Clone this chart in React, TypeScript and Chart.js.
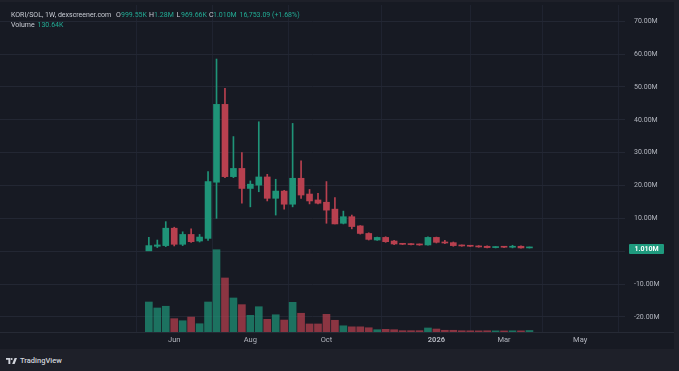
import React, { useEffect, useRef } from 'react';
import { Chart, registerables } from 'chart.js';

Chart.register(...registerables);

// Weekly candles (values in millions)
const opens = [0.1, 1.5, 1.7, 7.0, 2.1, 5.1, 3.1, 3.9, 21.0, 44.7, 22.7, 25.2, 19.1, 20.1, 22.6, 16.1, 18.3, 14.3, 22.2, 17.4, 15.6, 14.9, 12.8, 8.5, 10.5, 7.7, 5.4, 3.4, 4.2, 3.1, 2.3, 2.2, 2.1, 1.9, 4.2, 2.7, 2.6, 1.8, 1.7, 1.6, 1.5, 1.1, 1.3, 1.2, 1.5, 0.99955];
const highs = [4.2, 3.4, 9.0, 7.3, 5.9, 6.8, 5.1, 24.2, 58.5, 49.6, 34.9, 30.0, 21.4, 39.4, 23.4, 21.9, 18.5, 38.9, 27.5, 18.8, 17.6, 21.2, 16.3, 12.2, 11.0, 7.8, 5.6, 4.3, 4.4, 3.3, 2.4, 2.3, 2.2, 4.4, 4.3, 3.3, 2.8, 1.9, 1.8, 1.7, 1.6, 1.4, 1.4, 1.8, 1.6, 1.28];
const lows = [0.0, 1.1, 1.4, 1.6, 1.7, 2.7, 2.8, 3.3, 10.0, 22.4, 22.4, 14.6, 13.5, 18.1, 15.3, 11.0, 12.8, 13.5, 16.1, 14.4, 14.4, 8.5, 8.3, 8.3, 6.8, 5.2, 3.4, 3.3, 2.7, 2.0, 2.0, 1.9, 1.8, 1.8, 2.5, 2.3, 1.5, 1.5, 1.4, 1.2, 1.0, 1.0, 1.1, 1.0, 0.9, 0.96966];
const closes = [1.7, 1.9, 7.0, 2.1, 5.1, 2.9, 4.3, 21.2, 44.7, 22.7, 25.2, 19.1, 20.4, 22.6, 16.1, 18.3, 14.3, 22.2, 17.1, 15.3, 14.6, 12.5, 8.3, 10.5, 7.5, 5.4, 3.6, 4.2, 2.9, 2.2, 2.1, 2.0, 1.9, 4.2, 2.7, 2.5, 1.7, 1.6, 1.5, 1.3, 1.1, 1.3, 1.2, 1.3, 0.99, 1.010];
// Volume in thousands
const volumes = [2610, 2090, 2240, 1160, 980, 1300, 720, 2610, 7160, 4700, 2960, 2380, 1450, 2200, 1100, 1500, 1040, 2580, 1630, 700, 700, 1540, 1020, 540, 450, 450, 370, 200, 235, 200, 115, 115, 115, 350, 260, 150, 150, 110, 105, 100, 110, 100, 95, 105, 100, 130.64];

const xTickIndex = [3, 12, 21, 34, 42, 51];
const xTickLabels = ['Jun', 'Aug', 'Oct', '2026', 'Mar', 'May'];
const priceTicks = [-20, -10, 0, 10, 20, 30, 40, 50, 60, 70];

const UP = '#1f9478';
const DOWN = '#b8404f';
const UP_VOL = 'rgba(31,148,120,0.72)';
const DOWN_VOL = 'rgba(184,64,79,0.72)';
const BG = '#171a23';
const TEXT = '#b2b5be';
const GREEN_TXT = '#22ab94';
const FONT = 'Roboto, "Open Sans", sans-serif';

export default function App() {
  const ref = useRef<HTMLCanvasElement | null>(null);

  useEffect(() => {
    document.body.style.margin = '0';
    const canvas = ref.current;
    if (!canvas) return;
    const idx = opens.map((_, i) => i);
    const isUp = idx.map((i) => closes[i] >= opens[i]);
    const lastClose = closes[closes.length - 1];

    const plugin = {
      id: 'tvDecor',
      beforeDraw(chart: any) {
        const { ctx, width, height } = chart;
        ctx.save();
        ctx.fillStyle = BG;
        ctx.fillRect(0, 0, width, height);
        ctx.restore();
      },
      afterDraw(chart: any) {
        const { ctx, chartArea } = chart;
        const y = chart.scales.y.getPixelForValue(lastClose) + 1;
        ctx.save();
        ctx.strokeStyle = '#262a35';
        ctx.lineWidth = 1;
        ctx.beginPath();
        ctx.moveTo(0, chartArea.bottom + 0.5);
        ctx.lineTo(chart.width, chartArea.bottom + 0.5);
        ctx.stroke();
        const bx = chartArea.right + 4;
        const bw = 35;
        const bh = 10;
        ctx.fillStyle = '#1f9a7e';
        ctx.beginPath();
        (ctx as any).roundRect ? (ctx as any).roundRect(bx, y - bh / 2, bw, bh, 1) : ctx.rect(bx, y - bh / 2, bw, bh);
        ctx.fill();
        ctx.fillStyle = '#ffffff';
        ctx.font = `bold 7px ${FONT}`;
        ctx.textAlign = 'center';
        ctx.textBaseline = 'middle';
        ctx.fillText(lastClose.toFixed(3) + 'M', bx + bw / 2, y + 0.5);
        ctx.restore();
      },
    };

    const chart = new Chart(canvas, {
      type: 'bar',
      data: {
        datasets: [
          {
            label: 'body',
            data: idx.map((i) => ({ x: i, y: [opens[i], closes[i]] })) as any,
            backgroundColor: isUp.map((u) => (u ? UP : DOWN)),
            barThickness: 6,
            minBarLength: 1,
            grouped: false,
            order: 0,
            yAxisID: 'y',
          } as any,
          {
            label: 'wick',
            data: idx.map((i) => ({ x: i, y: [lows[i], highs[i]] })) as any,
            backgroundColor: isUp.map((u) => (u ? UP : DOWN)),
            barThickness: 1,
            grouped: false,
            order: 1,
            yAxisID: 'y',
          } as any,
          {
            label: 'volume',
            data: idx.map((i) => ({ x: i, y: volumes[i] })) as any,
            backgroundColor: isUp.map((u) => (u ? UP_VOL : DOWN_VOL)),
            barThickness: 7,
            grouped: false,
            order: 2,
            yAxisID: 'yv',
          } as any,
        ],
      },
      options: {
        responsive: false,
        animation: false,
        devicePixelRatio: 1,
        layout: { autoPadding: false, padding: { top: 3, left: 0, right: 0, bottom: 0 } },
        plugins: { legend: { display: false }, tooltip: { enabled: false } },
        scales: {
          x: {
            type: 'linear',
            min: -17.6,
            max: 56.3,
            offset: false,
            border: { display: false },
            grid: { color: '#1f2330', drawTicks: false },
            afterBuildTicks: (scale: any) => {
              scale.ticks = xTickIndex.map((v) => ({ value: v }));
            },
            afterFit: (scale: any) => {
              scale.height = 17;
              scale.paddingLeft = 0;
              scale.paddingRight = 0;
            },
            ticks: {
              autoSkip: false,
              maxRotation: 0,
              padding: 4,
              color: TEXT,
              font: (c: any) => ({
                family: FONT,
                size: 7.5,
                weight: c.tick && c.tick.label === '2026' ? 'bold' : 'normal',
              }),
              callback: (v: any) => {
                const k = xTickIndex.indexOf(Number(v));
                return k >= 0 ? xTickLabels[k] : '';
              },
            },
          },
          y: {
            type: 'linear',
            position: 'right',
            min: -24.6,
            max: 74.95,
            border: { display: false },
            grid: { color: '#232733', drawTicks: false },
            afterBuildTicks: (scale: any) => {
              scale.ticks = priceTicks.map((v) => ({ value: v }));
            },
            afterFit: (scale: any) => {
              scale.width = 49;
              scale.paddingTop = 0;
              scale.paddingBottom = 0;
            },
            ticks: {
              padding: 9,
              color: TEXT,
              font: { family: FONT, size: 7 },
              callback: (v: any) => (Number(v) === 0 ? '' : Number(v).toFixed(2) + 'M'),
            },
          },
          yv: {
            type: 'linear',
            display: false,
            min: 0,
            max: 28450,
          },
        },
      } as any,
      plugins: [plugin],
    });

    return () => chart.destroy();
  }, []);

  const hdr: React.CSSProperties = {
    position: 'absolute',
    fontFamily: FONT,
    fontSize: '7px',
    lineHeight: '8px',
    whiteSpace: 'nowrap',
  };

  return (
    <div style={{ position: 'relative', width: 679, height: 371, background: '#1e2029', overflow: 'hidden' }}>
      <canvas ref={ref} width={674} height={347} style={{ position: 'absolute', left: 0, top: 2, width: 674, height: 347 }} />
      <span style={{ ...hdr, left: 11, top: 11, color: '#c9ccd4' }}>KORI/SOL, 1W, dexscreener.com</span>
      <span style={{ ...hdr, left: 116, top: 11, color: '#c9ccd4' }}>O</span>
      <span style={{ ...hdr, left: 121, top: 11, color: GREEN_TXT }}>999.55K</span>
      <span style={{ ...hdr, left: 149, top: 11, color: '#c9ccd4' }}>H</span>
      <span style={{ ...hdr, left: 154, top: 11, color: GREEN_TXT }}>1.28M</span>
      <span style={{ ...hdr, left: 176.5, top: 11, color: '#c9ccd4' }}>L</span>
      <span style={{ ...hdr, left: 181, top: 11, color: GREEN_TXT }}>969.66K</span>
      <span style={{ ...hdr, left: 209, top: 11, color: '#c9ccd4' }}>C</span>
      <span style={{ ...hdr, left: 213, top: 11, color: GREEN_TXT }}>1.010M</span>
      <span style={{ ...hdr, left: 239.5, top: 11, color: GREEN_TXT }}>16,753.09 (+1.68%)</span>
      <span style={{ ...hdr, left: 11, top: 20.5, color: '#c9ccd4' }}>Volume</span>
      <span style={{ ...hdr, left: 37.5, top: 20.5, color: GREEN_TXT }}>130.64K</span>
      <svg width={11} height={6} viewBox="0 0 11 6" style={{ position: 'absolute', left: 6, top: 358 }}>
        <path d="M0 0 H4.3 V6 H2.4 V1.8 H0 Z" fill="#d1d4dc" />
        <circle cx={5.6} cy={1} r={1} fill="#d1d4dc" />
        <path d="M8.6 0 H11 L8.6 6 H6.2 Z" fill="#d1d4dc" />
      </svg>
      <span style={{ position: 'absolute', left: 20, top: 357, fontFamily: FONT, fontSize: '7.5px', lineHeight: '8px', color: '#d1d4dc', fontWeight: 500 }}>TradingView</span>
    </div>
  );
}
